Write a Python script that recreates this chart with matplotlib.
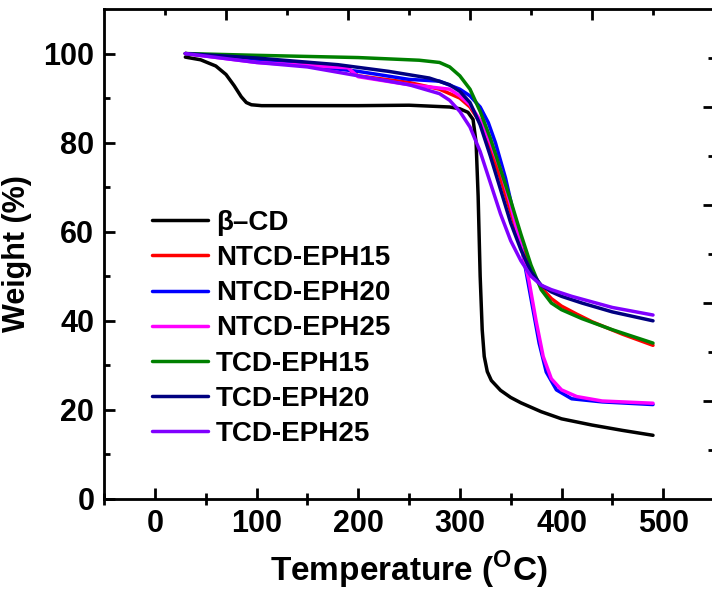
import numpy as np
import matplotlib
matplotlib.use("Agg")
import matplotlib.pyplot as plt

plt.rcParams['font.family'] = ['Liberation Sans', 'DejaVu Sans']
plt.rcParams['font.weight'] = 'bold'
plt.rcParams['mathtext.fontset'] = 'custom'
plt.rcParams['mathtext.rm'] = 'Liberation Sans:bold'
plt.rcParams['mathtext.bf'] = 'Liberation Sans:bold'

# TGA curves: temperature (C), weight (%)
bcd_t = [30, 45, 60, 70, 78, 85, 90, 95, 105, 150, 200, 250, 290, 300, 308, 313, 316, 318, 320, 322, 324, 327, 331, 340, 350, 360, 380, 400, 430, 460, 490]
bcd_w = [99.2, 98.6, 97.2, 95.3, 92.8, 90.3, 89.0, 88.5, 88.3, 88.3, 88.3, 88.4, 88.0, 87.6, 86.8, 85.2, 80, 68, 50, 38, 32, 28.6, 26.6, 24.4, 22.8, 21.6, 19.6, 18, 16.6, 15.4, 14.3]

n15_t = [30, 100, 150, 190, 200, 250, 280, 300, 310, 320, 330, 340, 350, 360, 370, 380, 390, 400, 415, 430, 460, 490]
n15_w = [100, 98.5, 97.5, 96.5, 95, 93.5, 92, 90, 88, 84.5, 79, 72, 64.5, 57, 51.5, 47.5, 45, 43.3, 41.5, 39.8, 37, 34.5]

n20_t = [30, 100, 150, 200, 250, 280, 300, 310, 320, 328, 335, 345, 355, 362, 370, 378, 385, 395, 410, 440, 490]
n20_w = [100, 98.5, 97.3, 96, 94.2, 93.8, 92, 90.5, 88, 84.5, 80, 72, 62, 55, 45, 35, 28.5, 24.5, 22.5, 21.8, 21.2]

n25_t = [30, 100, 150, 190, 200, 250, 290, 300, 310, 320, 330, 340, 350, 360, 368, 375, 382, 390, 400, 415, 440, 490]
n25_w = [100, 98, 97.3, 96.8, 94.8, 93, 92, 90.5, 88.5, 85, 80, 74, 66, 57, 49, 40, 32, 27, 24.5, 23, 22, 21.5]

t15_t = [30, 100, 200, 260, 280, 290, 300, 310, 320, 330, 340, 350, 360, 370, 380, 390, 400, 420, 450, 490]
t15_w = [100, 99.6, 99.1, 98.5, 98, 97, 95, 92, 87, 81, 74, 67, 59.5, 52.5, 47, 44, 42.5, 40.5, 38, 35]

t20_t = [30, 100, 180, 230, 270, 290, 300, 310, 320, 330, 340, 350, 360, 370, 380, 390, 400, 420, 450, 490]
t20_w = [100, 99, 97.5, 96, 94.5, 93, 91.5, 89, 84, 77, 69.5, 62, 56, 51, 48, 46.5, 45.5, 44, 42, 40]

t25_t = [30, 100, 150, 200, 250, 280, 290, 300, 310, 320, 330, 340, 350, 360, 370, 380, 390, 410, 450, 490]
t25_w = [100, 98, 97, 95, 93, 91, 89.5, 87, 83.5, 78, 71, 64, 58, 53.5, 50, 48, 47, 45.5, 43, 41.3]

labels = ['\u03b2\u2013CD', 'NTCD-EPH15', 'NTCD-EPH20', 'NTCD-EPH25',
          'TCD-EPH15', 'TCD-EPH20', 'TCD-EPH25']
colors = ['#000000', '#ff0000', '#0000ff', '#ff00ff', '#008000', '#000080', '#8000ff']
series = [(bcd_t, bcd_w), (n15_t, n15_w), (n20_t, n20_w), (n25_t, n25_w),
          (t15_t, t15_w), (t20_t, t20_w), (t25_t, t25_w)]

fig = plt.figure(figsize=[7.12, 5.90], dpi=100)
ax = fig.add_axes([104 / 712, 1 - 499 / 590, 610 / 712, 490 / 590])

for (t, w), c, lab in zip(series, colors, labels):
    ax.plot(t, w, color=c, lw=2.5, label=lab, solid_capstyle='round',
            solid_joinstyle='round')

ax.set_xlim(-50, 550)
ax.set_ylim(0, 110)
ax.set_xticks([0, 100, 200, 300, 400, 500])
ax.set_xticks([-50, 50, 150, 250, 350, 450, 550], minor=True)
ax.set_yticks([0, 20, 40, 60, 80, 100])
ax.set_yticks([10, 30, 50, 70, 90], minor=True)
ax.tick_params(which='major', direction='in', length=8, width=2, labelsize=22, pad=7,
               top=False, right=False)
ax.tick_params(axis='x', which='minor', direction='inout', length=8, width=2, top=False)
ax.tick_params(axis='y', which='minor', direction='in', length=4, width=2, right=False)
for s in ax.spines.values():
    s.set_linewidth(2)

ax.set_xlabel('Temperature ($^{\\rm O}$C)', fontsize=24, fontweight='bold', labelpad=7)
ax.set_ylabel('Weight (%)', fontsize=22, fontweight='bold', labelpad=8)

# top and right axes carry their own tick marks, no labels
ax_top = ax.twiny()
ax_top.set_xlim(-50, 550)
ax_top.set_xticks([70, 190, 310, 430])
ax_top.set_xticks([10, 130, 250, 370, 490], minor=True)
ax_top.tick_params(which='major', direction='in', length=8, width=2, labeltop=False)
ax_top.tick_params(which='minor', direction='in', length=4, width=2)

ax_r = ax.twinx()
ax_r.set_ylim(0, 110)
ax_r.set_yticks([22, 44, 66, 88])
ax_r.set_yticks([11, 33, 55, 77, 99], minor=True)
ax_r.tick_params(which='major', direction='in', length=8, width=2, labelright=False)
ax_r.tick_params(which='minor', direction='in', length=4, width=2)

ax.legend(loc='upper left', bbox_to_anchor=(0.079, 0.59), frameon=False,
          prop={'size': 20, 'weight': 'bold'}, handlelength=2.0, handletextpad=0.3,
          labelspacing=0.33, borderpad=0, borderaxespad=0)

plt.savefig('out.png', dpi=100)
plt.close('all')
